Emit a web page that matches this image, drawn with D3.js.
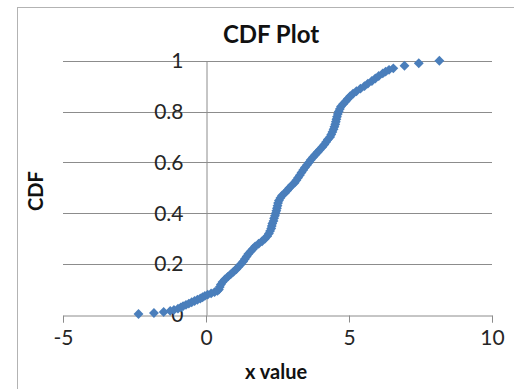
<!DOCTYPE html>
<html>
<head>
<meta charset="utf-8">
<script src="https://cdn.jsdelivr.net/npm/d3@7"></script>
<style>
  body { margin: 0; background: #fff; }
  svg { display: block; font-family: Lato, "Open Sans", sans-serif; }
</style>
</head>
<body>
<div id="vis"></div>
<script>
// declare constants
const FRAME_WIDTH = 514
const FRAME_HEIGHT = 389
const PLOT = {left: 63, right: 492, top: 60.7, bottom: 315}

// data: sorted x values and their CDF
const xValues = [
  -2.36, -1.82, -1.48, -1.25, -1.12, -0.98, -0.88, -0.80, -0.70, -0.60,
  -0.50, -0.40, -0.30, -0.20, -0.12, -0.04, 0.06, 0.18, 0.30, 0.40,
  0.45, 0.48, 0.52, 0.58, 0.66, 0.76, 0.86, 0.96, 1.06, 1.14,
  1.22, 1.30, 1.36, 1.42, 1.48, 1.56, 1.64, 1.72, 1.84, 1.96,
  2.06, 2.14, 2.20, 2.24, 2.28, 2.30, 2.32, 2.36, 2.38, 2.41,
  2.44, 2.46, 2.48, 2.50, 2.52, 2.55, 2.60, 2.66, 2.76, 2.84,
  2.92, 3.00, 3.10, 3.16, 3.22, 3.28, 3.34, 3.40, 3.46, 3.53,
  3.60, 3.66, 3.74, 3.82, 3.90, 3.98, 4.06, 4.14, 4.20, 4.26,
  4.34, 4.38, 4.42, 4.46, 4.49, 4.52, 4.54, 4.56, 4.58, 4.61,
  4.64, 4.68, 4.72, 4.80, 4.88, 4.96, 5.04, 5.14, 5.26, 5.40,
  5.54, 5.66, 5.80, 5.92, 6.04, 6.18, 6.28, 6.40, 6.55, 6.94,
  7.44, 8.16
]
const cdfValues = [
  0.004, 0.008, 0.012, 0.016, 0.020, 0.025, 0.030, 0.035, 0.040, 0.045,
  0.050, 0.055, 0.060, 0.065, 0.070, 0.075, 0.080, 0.085, 0.090, 0.095,
  0.100, 0.110, 0.120, 0.130, 0.140, 0.150, 0.160, 0.170, 0.180, 0.190,
  0.200, 0.210, 0.220, 0.230, 0.240, 0.250, 0.260, 0.270, 0.280, 0.290,
  0.300, 0.310, 0.320, 0.330, 0.340, 0.350, 0.360, 0.370, 0.380, 0.390,
  0.400, 0.410, 0.420, 0.430, 0.440, 0.450, 0.460, 0.470, 0.480, 0.490,
  0.500, 0.510, 0.520, 0.530, 0.540, 0.550, 0.560, 0.570, 0.580, 0.590,
  0.600, 0.610, 0.620, 0.630, 0.640, 0.650, 0.660, 0.670, 0.680, 0.690,
  0.700, 0.710, 0.720, 0.730, 0.740, 0.750, 0.760, 0.770, 0.780, 0.790,
  0.800, 0.810, 0.820, 0.830, 0.840, 0.850, 0.860, 0.870, 0.880, 0.890,
  0.900, 0.910, 0.920, 0.930, 0.940, 0.950, 0.957, 0.964, 0.970, 0.980,
  0.990, 1.000
]
const xTicks = [-5, 0, 5, 10]
const yTicks = [0, 0.2, 0.4, 0.6, 0.8, 1]

const points = xValues.map((x, i) => ({x: x, cdf: cdfValues[i]}))

const FRAME = d3.select('#vis')
                .append('svg')
                .attr('width', FRAME_WIDTH)
                .attr('height', FRAME_HEIGHT)

// chart border
FRAME.append('rect')
     .attr('x', 17.5).attr('y', 7.5)
     .attr('width', 520).attr('height', 400)
     .attr('fill', '#fff')
     .attr('stroke', '#b3b3b3')

const x = d3.scaleLinear().domain([-5, 10]).range([PLOT.left, PLOT.right])
const y = d3.scaleLinear().domain([0, 1]).range([PLOT.bottom, PLOT.top])

// horizontal gridlines
FRAME.append('g')
     .selectAll('line')
     .data(yTicks.filter(d => d > 0))
     .enter()
     .append('line')
       .attr('x1', PLOT.left).attr('x2', PLOT.right)
       .attr('y1', d => Math.round(y(d)) + 0.5)
       .attr('y2', d => Math.round(y(d)) + 0.5)
       .attr('stroke', '#8c8c8c')

// x axis sits at cdf = 0
const xAxis = FRAME.append('g')
     .attr('transform', 'translate(0,' + (Math.round(y(0)) + 0.5) + ')')
     .call(d3.axisBottom(x).tickValues(xTicks).tickSize(7).tickPadding(8)
              .tickFormat(d => String(d)))
xAxis.select('.domain').attr('stroke', '#8c8c8c')
xAxis.selectAll('.tick line').attr('stroke', '#8c8c8c')
xAxis.selectAll('.tick text')
     .attr('font-family', 'Lato, sans-serif')
     .attr('font-size', '21px')
     .attr('fill', '#262626')

// y axis sits at x = 0, labels pulled left
const yAxis = FRAME.append('g')
     .attr('transform', 'translate(' + (Math.round(x(0)) + 0.5) + ',0)')
     .call(d3.axisLeft(y).tickValues(yTicks).tickSize(0).tickPadding(23)
              .tickFormat(d => String(d)))
yAxis.select('.domain').attr('stroke', '#8c8c8c')
yAxis.selectAll('.tick text')
     .attr('font-family', 'Lato, sans-serif')
     .attr('font-size', '21px')
     .attr('fill', '#262626')

// diamonds
FRAME.append('g')
     .selectAll('path')
     .data(points)
     .enter()
     .append('path')
       .attr('transform', d => 'translate(' + x(d.x) + ',' + y(d.cdf) + ')')
       .attr('d', d3.symbol(d3.symbolDiamond2, 62))
       .attr('fill', '#4a7ebb')

// title
FRAME.append('text')
     .attr('x', 271)
     .attr('y', 43)
     .attr('text-anchor', 'middle')
     .attr('font-size', '24px')
     .attr('font-weight', 'bold')
     .attr('fill', '#111')
     .text('CDF Plot')

// axis titles
FRAME.append('text')
     .attr('x', 276)
     .attr('y', 379)
     .attr('text-anchor', 'middle')
     .attr('font-size', '20px')
     .attr('font-weight', 'bold')
     .attr('fill', '#111')
     .text('x value')

FRAME.append('text')
     .attr('transform', 'translate(43,191) rotate(-90)')
     .attr('text-anchor', 'middle')
     .attr('font-size', '20px')
     .attr('font-weight', 'bold')
     .attr('fill', '#111')
     .text('CDF')
</script>
</body>
</html>
